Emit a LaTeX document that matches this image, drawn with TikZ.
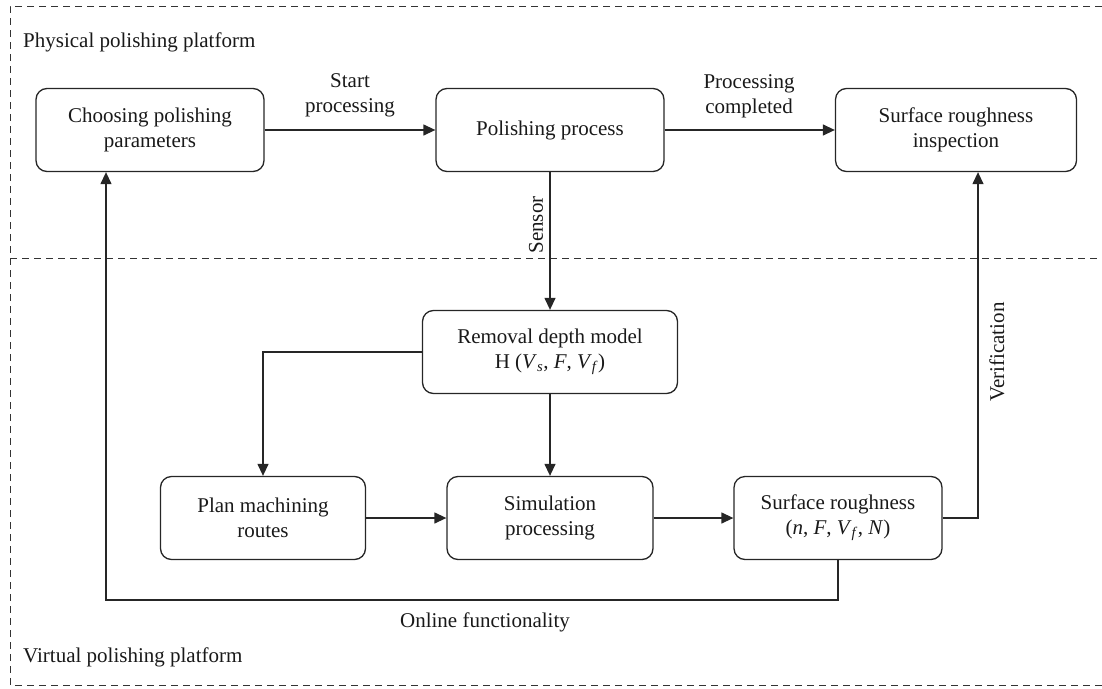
\documentclass[tikz,border=0pt]{standalone}
\usepackage{fontspec}
\setmainfont{Liberation Serif}
\usetikzlibrary{arrows.meta}
\begin{document}
\begin{tikzpicture}[x=1pt,y=-1pt,
  every node/.style={font=\fontsize{21}{25}\selectfont, text=black!90},
  box/.style={draw=black!85, line width=1.3pt, rounded corners=11pt, align=center, inner sep=0pt},
  conn/.style={draw=black!85, line width=1.3pt},
  arr/.style={conn, -{Triangle[length=12pt,width=11pt]}},
  frame/.style={draw=black!80, line width=1pt, dash pattern=on 7pt off 5pt},
  lbl/.style={align=center, inner sep=0pt}]
\useasboundingbox (0,0) rectangle (1102,688);
% frames
\draw[frame] (1102,6) -- (10,6) -- (10,685) -- (1102,685);
\draw[frame] (10,258) -- (1102,258);
\node[anchor=west, inner sep=0pt] (phys) at (23,42) {Physical polishing platform};
\node[anchor=west, inner sep=0pt] (virt) at (23,657) {Virtual polishing platform};
% boxes
\node[box, minimum width=228pt, minimum height=83pt] (choose) at (150,130) {Choosing polishing\\parameters};
\node[box, minimum width=228pt, minimum height=83pt] (polish) at (550,130) {Polishing process};
\node[box, minimum width=241pt, minimum height=83pt] (insp) at (956,130) {Surface roughness\\inspection};
\node[box, minimum width=255pt, minimum height=83pt] (model) at (550,352) {Removal depth model\\H (\textit{V}\textsubscript{\textit{s}}, \textit{F}, \textit{V}\textsubscript{\textit{f}})};
\node[box, minimum width=205pt, minimum height=83pt] (plan) at (263,518) {Plan machining\\routes};
\node[box, minimum width=206pt, minimum height=83pt] (sim) at (550,518) {Simulation\\processing};
\node[box, minimum width=208pt, minimum height=83pt] (rough) at (838,518) {Surface roughness\\(\textit{n}, \textit{F}, \textit{V}\textsubscript{\textit{f}}, \textit{N})};
% connectors
\draw[arr] (choose) -- (polish);
\node[lbl] (startlbl) at (350,95) {Start\\processing};
\draw[arr] (polish) -- (insp);
\node[lbl] (donelbl) at (749,96) {Processing\\completed};
\draw[arr] (polish) -- (model);
\node[lbl, rotate=90] (sensor) at (536,225) {Sensor};
\coordinate (m1) at (263,352);
\draw[arr] (model.west) -- (m1) -- (plan.north);
\draw[arr] (model) -- (sim);
\draw[arr] (plan) -- (sim);
\draw[arr] (sim) -- (rough);
\coordinate (v1) at (978,518);
\draw[arr] (rough.east) -- (v1) -- (v1 |- insp.south);
\node[lbl, rotate=90] (verif) at (997,352) {Verification};
\coordinate (o1) at (838,600);
\coordinate (o2) at (106,600);
\draw[arr] (rough.south) -- (o1) -- (o2) -- (o2 |- choose.south);
\node[lbl] (online) at (485,622) {Online functionality};
\end{tikzpicture}
\end{document}
